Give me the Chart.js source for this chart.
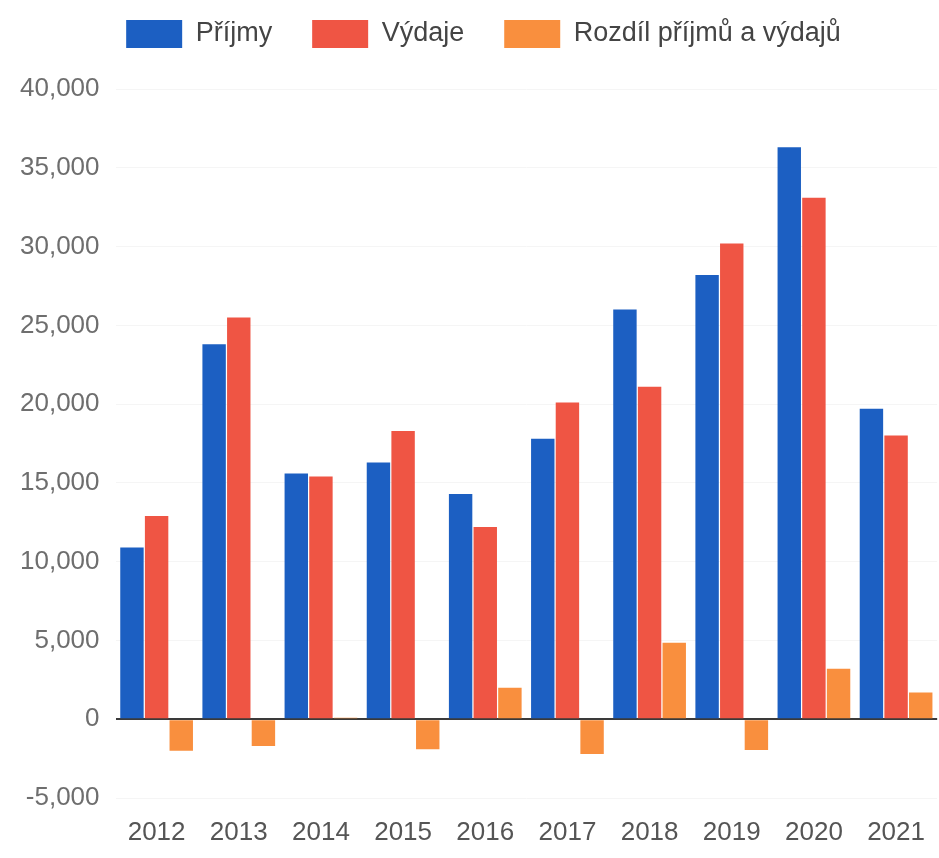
<!DOCTYPE html>
<html>
<head>
<meta charset="utf-8">
<title>Příjmy a výdaje</title>
<script src="https://cdn.jsdelivr.net/npm/chart.js@4.4.1/dist/chart.umd.min.js"></script>
<style>
  html, body { margin: 0; padding: 0; background: #fff; }
  #wrap { width: 939px; height: 858px; }
</style>
</head>
<body>
<div id="wrap"><canvas id="budgetChart" width="939" height="858"></canvas></div>
<script>
// Data
const years = ['2012', '2013', '2014', '2015', '2016', '2017', '2018', '2019', '2020', '2021'];
const prijmy = [10900, 23800, 15600, 16300, 14300, 17800, 26000, 28200, 36300, 19700];
const vydaje = [12900, 25500, 15400, 18300, 12200, 20100, 21100, 30200, 33100, 18000];
const rozdil = [-2000, -1700, 100, -1900, 2000, -2200, 4850, -1950, 3200, 1700];
const yTicks = [-5000, 0, 5000, 10000, 15000, 20000, 25000, 30000, 35000, 40000];

const fontFamily = 'Liberation Sans, Arial, sans-serif';

// more room under the legend, and nudge it a bit to the right
const legendSpace = {
    id: 'legendSpace',
    beforeInit: function(chart) {
        const origFit = chart.legend.fit;
        chart.legend.fit = function() {
            origFit.bind(chart.legend)();
            this.height += 31;
        };
    },
    afterLayout: function(chart) {
        chart.legend.left += 12;
        chart.legend.right += 12;
    }
};

const ctx = document.getElementById('budgetChart').getContext('2d');
const budgetChart = new Chart(ctx, {
    type: 'bar',
    data: {
        labels: years,
        datasets: [{
            label: 'Příjmy',
            data: prijmy,
            backgroundColor: '#1c5fc2'
        }, {
            label: 'Výdaje',
            data: vydaje,
            backgroundColor: '#ef5544'
        }, {
            label: 'Rozdíl příjmů a výdajů',
            data: rozdil,
            backgroundColor: '#f98f3e'
        }]
    },
    options: {
        responsive: false,
        animation: false,
        layout: {
            padding: { left: 4, right: 0, top: -20, bottom: -2 }
        },
        datasets: {
            bar: {
                categoryPercentage: 0.9,
                barPercentage: 0.95
            }
        },
        plugins: {
            tooltip: { enabled: false },
            legend: {
                position: 'top',
                align: 'center',
                labels: {
                    boxWidth: 56,
                    boxHeight: 28,
                    padding: 40,
                    color: '#444',
                    font: { family: fontFamily, size: 27 }
                }
            }
        },
        scales: {
            x: {
                grid: { display: false },
                border: { display: false },
                ticks: {
                    color: '#555',
                    padding: 14,
                    font: { family: fontFamily, size: 26, lineHeight: 1 }
                }
            },
            y: {
                min: -5000,
                max: 40000,
                afterBuildTicks: function(scale) {
                    scale.ticks = yTicks.map(v => ({ value: v }));
                },
                border: { display: false },
                grid: {
                    color: function(c) {
                        return c.tick && c.tick.value === 0 ? '#3a3a3a' : '#f5f5f5';
                    },
                    lineWidth: function(c) {
                        return c.tick && c.tick.value === 0 ? 2 : 1;
                    },
                    drawTicks: false
                },
                ticks: {
                    color: '#6e6e6e',
                    padding: 16,
                    font: { family: fontFamily, size: 26 },
                    callback: function(v) {
                        return v.toLocaleString('en-US');
                    }
                }
            }
        }
    },
    plugins: [legendSpace]
});
</script>
</body>
</html>
